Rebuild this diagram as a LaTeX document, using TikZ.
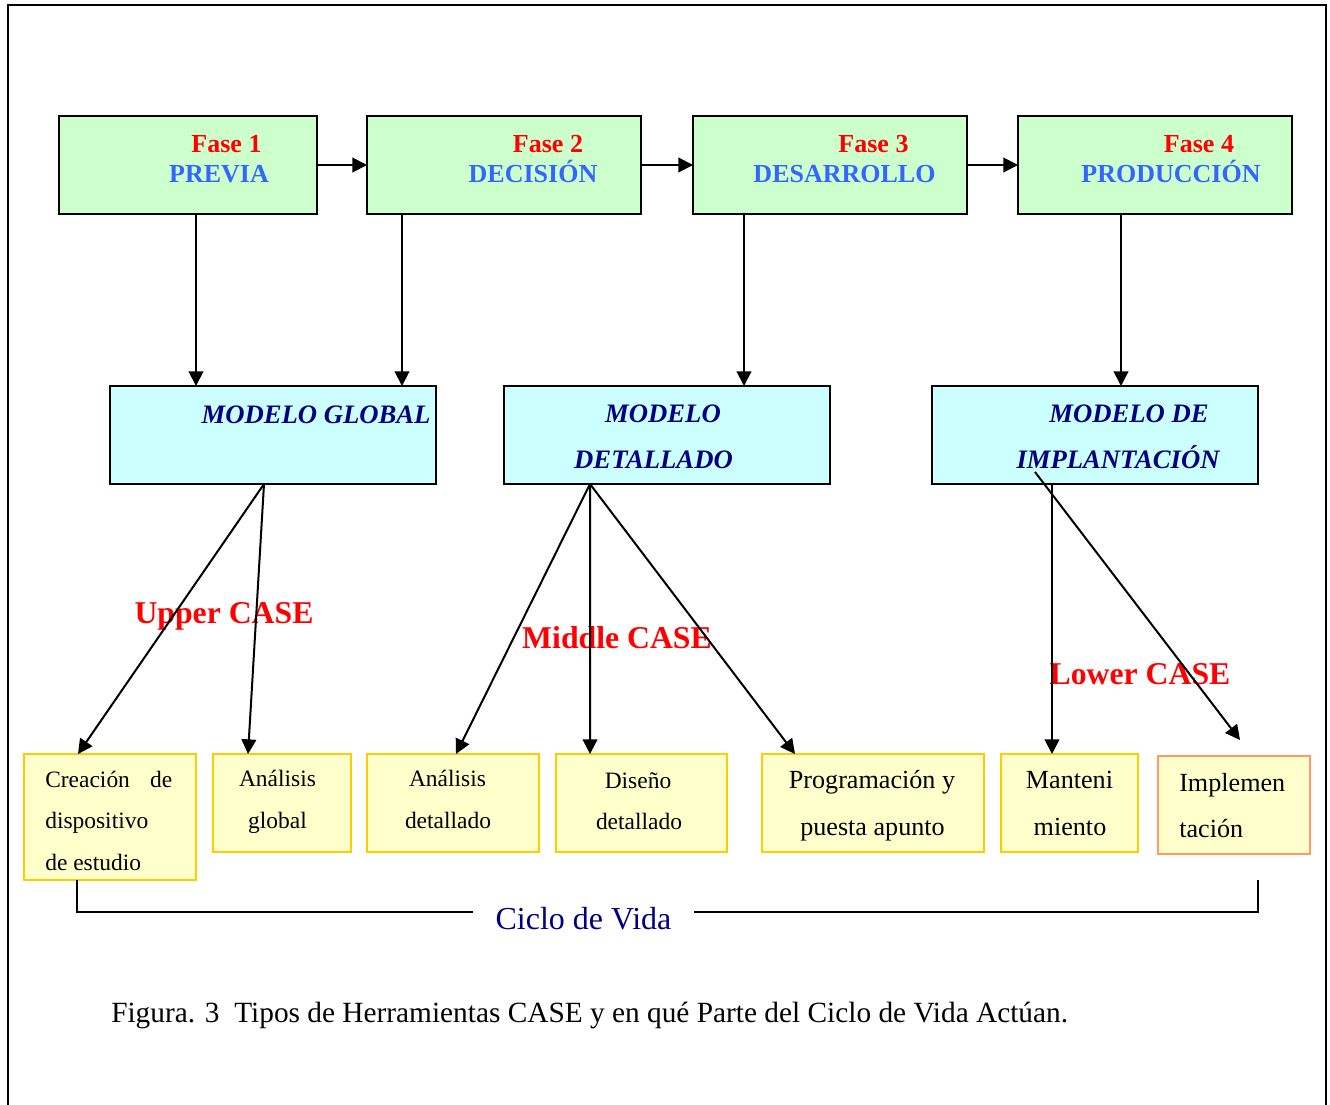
\documentclass[tikz,border=0pt]{standalone}
\usepackage{fontspec}
\setmainfont{Liberation Serif}
\usetikzlibrary{arrows.meta}
\definecolor{gfill}{HTML}{CCFFCC}
\definecolor{cfill}{HTML}{CCFFFF}
\definecolor{yfill}{HTML}{FFFFCC}
\definecolor{ygold}{HTML}{FFCC00}
\definecolor{yorange}{HTML}{FF9966}
\definecolor{fblue}{HTML}{3366FF}
\definecolor{navy}{HTML}{000080}
\begin{document}
\begin{tikzpicture}[x=0.75pt,y=-0.75pt,
  box/.style={rectangle,draw=black,line width=1.7pt,inner sep=0pt,outer sep=0pt},
  gbox/.style={box,fill=gfill,minimum height=73.5pt},
  cbox/.style={box,fill=cfill,minimum width=244.5pt,minimum height=73.5pt},
  ybox/.style={rectangle,draw=ygold,fill=yfill,line width=1.5pt,inner sep=0pt,outer sep=0pt,minimum height=73.5pt},
  arr/.style={line width=1.5pt,-{Triangle[length=11pt,width=11pt]}},
  txt/.style={inner sep=0pt,anchor=base},
  fase/.style={txt,text=red,font=\fontsize{19.5}{22}\selectfont\bfseries},
  fname/.style={txt,text=fblue,font=\fontsize{19.5}{22}\selectfont\bfseries},
  mtxt/.style={txt,text=navy,font=\fontsize{20}{22}\selectfont\bfseries\itshape},
  casel/.style={txt,text=red,font=\fontsize{23.8}{26}\selectfont\bfseries},
  ysmall/.style={txt,font=\fontsize{17.6}{20}\selectfont},
  ybig/.style={txt,font=\fontsize{19.6}{22}\selectfont},
  brk/.style={line width=1.1pt}
]
\useasboundingbox (0,0) rectangle (1330,1104);
\begin{scope}
\clip (0,0) rectangle (1330,1104);
\draw[line width=1.9pt] (8,5) rectangle (1326,1130);
\end{scope}

% phase boxes
\node[gbox,minimum width=193.5pt] (g1) at (188,165) {};
\node[gbox,minimum width=205.5pt] (g2) at (504,165) {};
\node[gbox,minimum width=205.5pt] (g3) at (830,165) {};
\node[gbox,minimum width=205.5pt] (g4) at (1155,165) {};

% model boxes
\node[cbox] (mg) at (273,435) {};
\node[cbox] (md) at (667,435) {};
\node[cbox] (mi) at (1095,435) {};

% tool boxes
\node[ybox,minimum width=129pt,minimum height=94.5pt] (c1) at (110,817) {};
\node[ybox,minimum width=103.5pt] (c2) at (282,803) {};
\node[ybox,minimum width=129pt] (c3) at (453,803) {};
\node[ybox,minimum width=128.25pt] (c4) at (641.5,803) {};
\node[ybox,minimum width=166.5pt] (c5) at (873,803) {};
\node[ybox,minimum width=102.75pt] (c6) at (1069.5,803) {};
\node[ybox,draw=yorange,minimum width=114pt] (c7) at (1234,805) {};

% texts in phase boxes
\node[fase] (f1) at (226.5,152) {Fase 1};
\node[fname] (n1) at (219,182) {PREVIA};
\node[fase] (f2) at (548,152) {Fase 2};
\node[fname] (n2) at (533,182) {DECISIÓN};
\node[fase] (f3) at (873.5,152) {Fase 3};
\node[fname] (n3) at (844.5,182) {DESARROLLO};
\node[fase] (f4) at (1199,152) {Fase 4};
\node[fname] (n4) at (1171,182) {PRODUCCIÓN};

% texts in model boxes
\node[mtxt] (tmg) at (316,423) {MODELO GLOBAL};
\node[mtxt] (tmd1) at (663,422) {MODELO};
\node[mtxt] (tmd2) at (653.5,468) {DETALLADO};
\node[mtxt] (tmi1) at (1129,422) {MODELO DE};
\node[mtxt] (tmi2) at (1118,468) {IMPLANTACIÓN};

% texts in tool boxes
\node[ysmall,anchor=base west] (t1a) at (45,787) {\makebox[95.25pt][s]{Creación\hfill de}};
\node[ysmall,anchor=base west] (t1b) at (45,828) {dispositivo};
\node[ysmall,anchor=base west] (t1c) at (45,870) {de estudio};
\node[ysmall] (t2a) at (277.5,786) {Análisis};
\node[ysmall] (t2b) at (277.5,828) {global};
\node[ysmall] (t3a) at (447.5,786) {Análisis};
\node[ysmall] (t3b) at (448,828) {detallado};
\node[ysmall] (t4a) at (638,788) {Diseño};
\node[ysmall] (t4b) at (639,829) {detallado};
\node[ybig] (t5a) at (872,788) {Programación y};
\node[ybig] (t5b) at (872.5,835) {puesta apunto};
\node[ybig] (t6a) at (1069.5,788) {Manteni};
\node[ybig] (t6b) at (1070,835) {miento};
\node[ybig,anchor=base west] (t7a) at (1179,791) {Implemen};
\node[ybig,anchor=base west] (t7b) at (1179,837) {tación};

% CASE labels
\node[casel] (up) at (224,623) {Upper CASE};
\node[casel] (mid) at (617,648) {Middle CASE};
\node[casel] (low) at (1140,684) {Lower CASE};

% phase chain
\draw[arr] (g1.east) -- (g2.west);
\draw[arr] (g2.east) -- (g3.west);
\draw[arr] (g3.east) -- (g4.west);

% phases to models
\draw[arr] ([xshift=6pt]g1.south) -- ([xshift=6pt]g1.south |- mg.north);
\draw[arr] ([xshift=-76.5pt]g2.south) -- ([xshift=-76.5pt]g2.south |- mg.north);
\draw[arr] ([xshift=-64.5pt]g3.south) -- ([xshift=-64.5pt]g3.south |- md.north);
\draw[arr] ([xshift=-25.5pt]g4.south) -- ([xshift=-25.5pt]g4.south |- mi.north);

% models to tools
\draw[arr] ([xshift=-6.75pt]mg.south) -- ([xshift=-24pt]c1.north);
\draw[arr] ([xshift=-6.75pt]mg.south) -- ([xshift=-25.5pt]c2.north);
\draw[arr] ([xshift=-57.75pt]md.south) -- ([xshift=2.25pt]c3.north);
\draw[arr] ([xshift=-57.75pt]md.south) -- ([xshift=-38.6pt]c4.north);
\draw[arr] ([xshift=-57.75pt]md.south) -- ([xshift=-58.5pt]c5.north);
\draw[arr] ([xshift=-32.25pt]mi.south) -- ([xshift=-32.25pt]mi.south |- c6.north);
\draw[arr] ([xshift=-45pt,yshift=9pt]mi.south) -- ([xshift=4.5pt,yshift=12pt]c7.north);

% life cycle bracket
\node[txt,text=navy,font=\fontsize{24}{26}\selectfont,inner xsep=17pt] (ciclo) at (583.5,929) {Ciclo de Vida};
\coordinate (bl) at (77,912);
\coordinate (br) at (1258,912);
\coordinate (brt) at (1258,880);
\draw[brk] (c1.south -| bl) -- (bl) -- (bl -| ciclo.west);
\draw[brk] (br -| ciclo.east) -- (br) -- (brt);

% caption
\node[txt,anchor=base west,font=\fontsize{22}{24}\selectfont] (cap) at (111,1022) {Figura. 3~ Tipos de Herramientas CASE y en qué Parte del Ciclo de Vida Actúan.};
\end{tikzpicture}
\end{document}
